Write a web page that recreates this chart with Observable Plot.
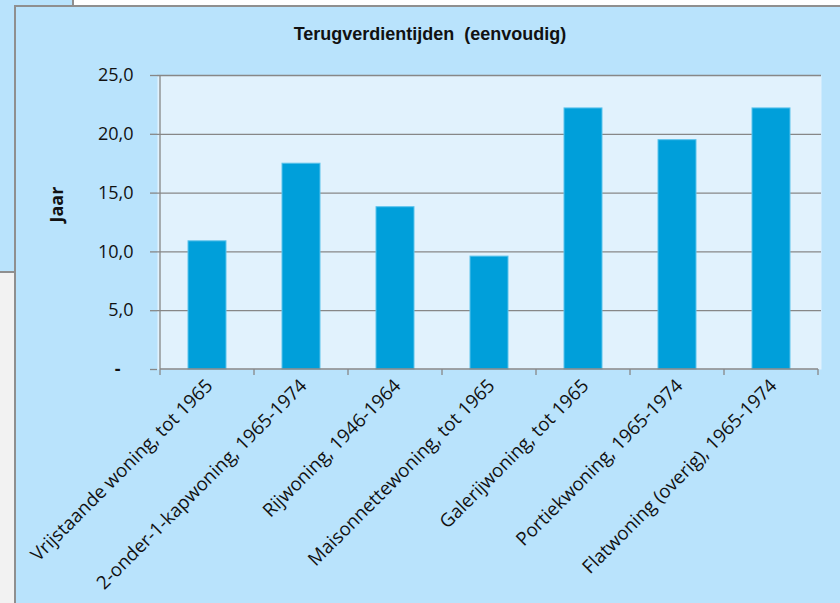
<!DOCTYPE html>
<html>
<head>
<meta charset="utf-8">
<script src="https://cdn.jsdelivr.net/npm/d3@7"></script>
<script src="https://cdn.jsdelivr.net/npm/@observablehq/plot@0.6"></script>
<style>
  html, body { margin: 0; padding: 0; background: #ffffff; }
  body { position: relative; width: 840px; height: 603px; overflow: hidden; font-family: "Open Sans", sans-serif; }
  #back-panel { position: absolute; left: 0; top: 0; width: 72px; height: 271px; background: #b9e3fc; border-right: 2px solid #8f8f8f; border-bottom: 2px solid #8f8f8f; }
  #side-strip { position: absolute; left: 0; top: 273px; width: 15px; height: 330px; background: #f2f2f2; }
  #panel { position: absolute; left: 14px; top: 5px; width: 830px; height: 600px; background: #b9e3fc; border-left: 2px solid #8f8f8f; border-top: 2px solid #8f8f8f; }
  #title { position: absolute; left: 0; width: 860px; top: 24px; text-align: center; white-space: pre; font: bold 18px "Liberation Sans", Arial, sans-serif; color: #111; }
  #chart { position: absolute; left: 0; top: 0; }
</style>
</head>
<body>
<div id="back-panel"></div>
<div id="side-strip"></div>
<div id="panel"></div>
<div id="title">Terugverdientijden  (eenvoudig)</div>
<div id="chart"></div>
<script>
// Simple payback time per dwelling type (years)
const woningtypen = [
  "Vrijstaande woning, tot 1965",
  "2-onder-1-kapwoning, 1965-1974",
  "Rijwoning, 1946-1964",
  "Maisonnettewoning, tot 1965",
  "Galerijwoning, tot 1965",
  "Portiekwoning, 1965-1974",
  "Flatwoning (overig), 1965-1974"
];
const terugverdientijd = [10.9, 17.5, 13.8, 9.6, 22.2, 19.5, 22.2];
const yTicks = [5, 10, 15, 20, 25];

const rows = woningtypen.map((type, i) => ({type, jaar: terugverdientijd[i]}));

const gray = "#878787";
const fmt = (v) => v.toFixed(1).replace(".", ",");

// Axis lines plus category-boundary tick marks along the bottom
function axisLines(index, scales, values, dimensions) {
  const {x, y} = scales;
  const ns = "http://www.w3.org/2000/svg";
  const g = document.createElementNS(ns, "g");
  g.setAttribute("stroke", gray);
  g.setAttribute("stroke-width", "1.3");
  const line = (x1, y1, x2, y2) => {
    const l = document.createElementNS(ns, "line");
    l.setAttribute("x1", x1); l.setAttribute("y1", y1);
    l.setAttribute("x2", x2); l.setAttribute("y2", y2);
    g.appendChild(l);
  };
  const half = (x.step() - x.bandwidth()) / 2;
  const edges = x.domain().map((d) => x(d) - half);
  edges.push(x(x.domain()[x.domain().length - 1]) + x.bandwidth() + half);
  const y0 = y(0);
  line(edges[0], y(25), edges[0], y0);
  line(edges[0], y0, edges[edges.length - 1], y0);
  for (const e of edges) line(e, y0, e, y0 + 6);
  return g;
}

const chart = Plot.plot({
  width: 840,
  height: 603,
  marginLeft: 157,
  marginRight: 19,
  marginTop: 75,
  marginBottom: 234,
  style: {background: "transparent", fontFamily: "'Open Sans', sans-serif"},
  x: {domain: woningtypen, paddingInner: 0.6, paddingOuter: 0.3, axis: null, label: null},
  y: {domain: [0, 25], axis: null, label: null},
  marks: [
    Plot.frame({fill: "#e1f2fd", stroke: null}),
    Plot.gridY(yTicks, {stroke: gray, strokeOpacity: 1, strokeWidth: 1.3}),
    Plot.barY(rows, {x: "type", y: "jaar", fill: "#009fda", stroke: "#5cc3ec", strokeWidth: 1}),
    axisLines,
    Plot.axisY(yTicks, {label: null, tickSize: 7, tickPadding: 17, tickFormat: fmt, fontSize: 18, fill: "#111", stroke: gray, strokeWidth: 1.3}),
    Plot.axisY([0], {label: null, tickSize: 7, tickPadding: 30, tickFormat: () => "-", fontSize: 18, fontWeight: "bold", fill: "#111", stroke: gray, strokeWidth: 1.3}),
    Plot.text(["Jaar"], {frameAnchor: "left", dx: -100, rotate: -90, fontSize: 18, fontWeight: "bold", fill: "#111"}),
    Plot.text(woningtypen, {x: (d) => d, frameAnchor: "bottom", rotate: -45, textAnchor: "end", lineAnchor: "top", dx: -3, dy: 8, fontSize: 18.7, fill: "#111"})
  ]
});
document.getElementById("chart").appendChild(chart);
</script>
</body>
</html>
